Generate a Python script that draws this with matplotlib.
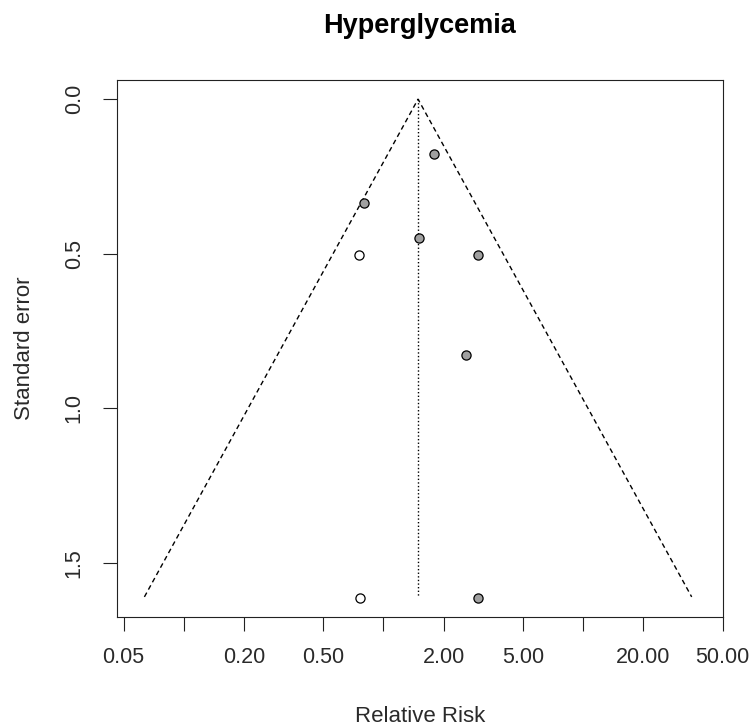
import numpy as np
import matplotlib
matplotlib.use("Agg")
import matplotlib.pyplot as plt

plt.rcParams['font.family'] = ['Liberation Sans', 'DejaVu Sans']

# observed studies (relative risk, standard error)
rr_observed = [1.79, 0.796, 1.51, 2.99, 2.59, 2.99]
se_observed = [0.177, 0.335, 0.450, 0.505, 0.828, 1.614]

# studies imputed by trim and fill
rr_filled = [0.758, 0.767]
se_filled = [0.505, 1.614]

# pooled estimate and funnel depth
pooled_rr = 1.49
se_max = 1.61

x_ticks = [0.05, 0.1, 0.2, 0.5, 1, 2, 5, 10, 20, 50]
x_labels = ['0.05', '', '0.20', '0.50', '', '2.00', '5.00', '', '20.00', '50.00']
y_ticks = [0.0, 0.5, 1.0, 1.5]
y_labels = ['0.0', '0.5', '1.0', '1.5']

W, H = 755, 728
fig = plt.figure(figsize=(W / 100, H / 100), dpi=100)
ax = fig.add_axes([116.7 / W, 1 - 617.3 / H, (722.7 - 116.7) / W, (617.3 - 80) / H])

# funnel (pseudo 95% region)
se_line = np.array([se_max, 0.0, se_max])
log_center = np.log(pooled_rr)
funnel_x = np.exp(log_center + np.array([-1.96, 0.0, 1.96]) * se_line)
ax.plot(funnel_x, se_line, color='black', lw=1.0, ls=(0, (3.5, 2.5)))
ax.plot([pooled_rr, pooled_rr], [0, se_max], color='black', lw=1.0, ls=(0, (1, 1.6)))

ax.plot(rr_observed, se_observed, 'o', ms=6.6, mfc='#a0a0a0', mec='black', mew=0.9)
ax.plot(rr_filled, se_filled, 'o', ms=6.6, mfc='white', mec='black', mew=0.9)

ax.set_xscale('log')
ax.set_xlim(10 ** -1.336, 10 ** 1.699)
ax.set_ylim(1.676, -0.062)
ax.xaxis.set_minor_locator(matplotlib.ticker.NullLocator())
ax.set_xticks(x_ticks)
ax.set_xticklabels(x_labels)
ax.set_yticks(y_ticks)
ax.set_yticklabels(y_labels, rotation=90, va='center')

ax.tick_params(axis='both', direction='out', length=10, width=0.8,
               labelsize=15.5, color='#222222', labelcolor='#2a2a2a')
ax.tick_params(axis='x', pad=11.5)
ax.tick_params(axis='y', pad=13)
for s in ax.spines.values():
    s.set_linewidth(0.8)
    s.set_color('#222222')

fig.text(419.7 / W, 1 - 33.3 / H, 'Hyperglycemia', ha='center', va='baseline',
         fontsize=19.5, fontweight='bold')
fig.text(419.7 / W, 1 - 721.7 / H, 'Relative Risk', ha='center', va='baseline',
         fontsize=16, color='#2a2a2a')
fig.text(24.5 / W, 1 - 348.5 / H, 'Standard error', ha='center', va='center',
         rotation=90, fontsize=16, color='#2a2a2a')

fig.savefig('out.png', dpi=100)
